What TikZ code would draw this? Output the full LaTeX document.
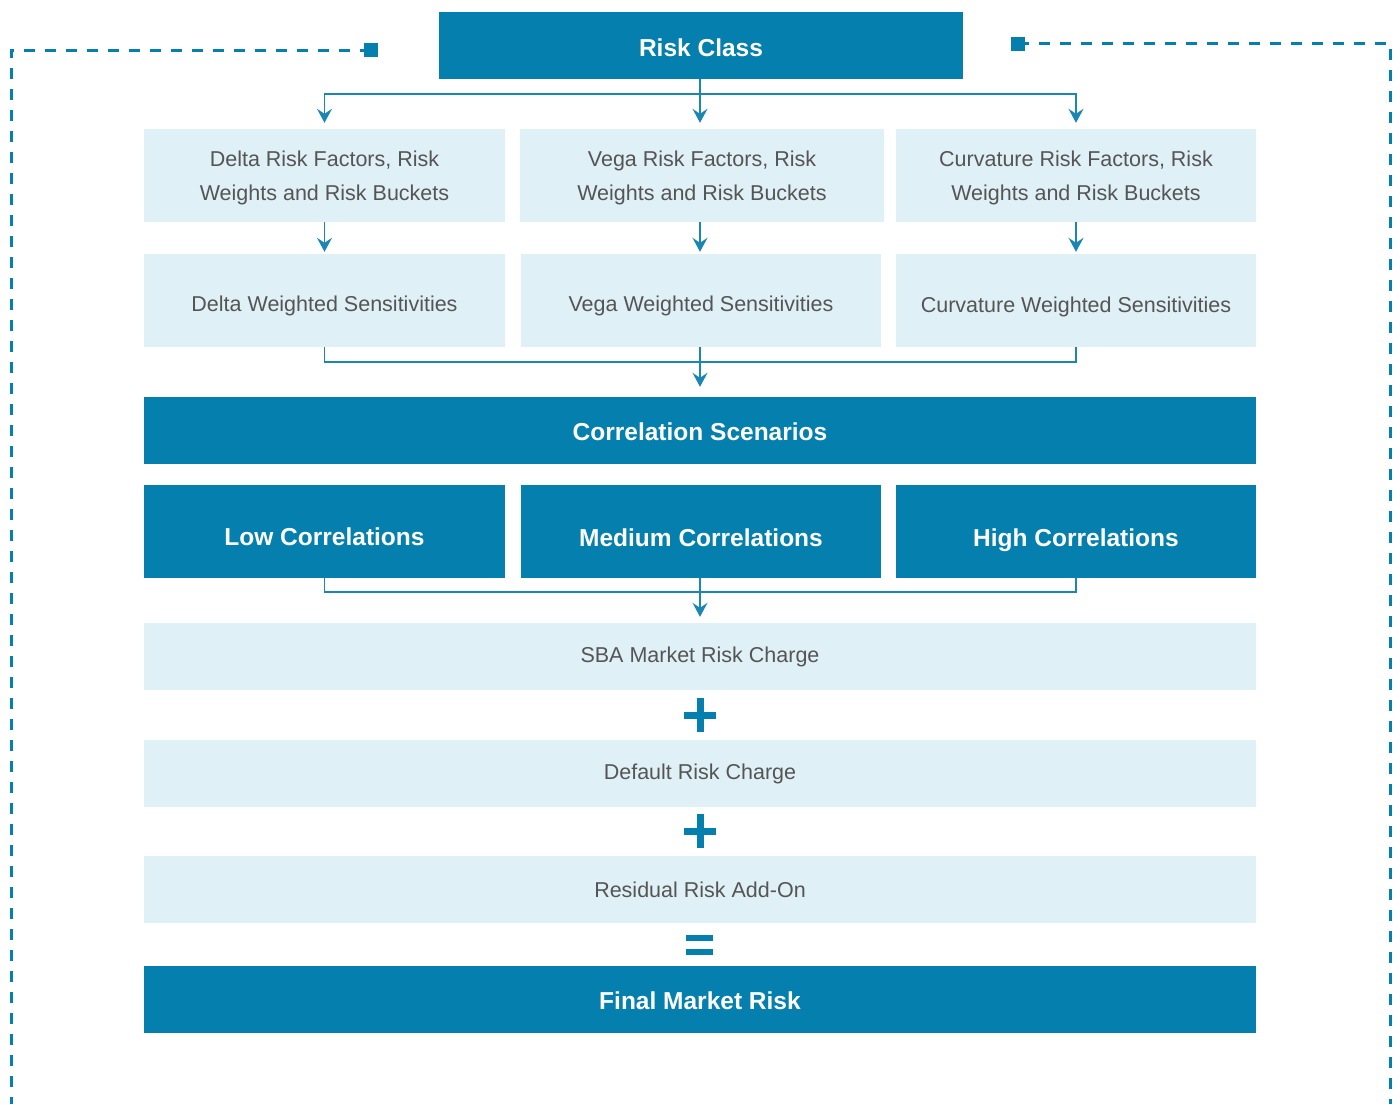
\documentclass[tikz,border=0pt]{standalone}
\usepackage{fontspec}
\setmainfont{Liberation Sans}
\usetikzlibrary{arrows.meta}
\definecolor{dark}{HTML}{0580AE}
\definecolor{light}{HTML}{DFF0F6}
\definecolor{txt}{HTML}{555555}
\definecolor{ln}{HTML}{1A86B3}
\begin{document}
\begin{tikzpicture}[x=1pt,y=-1pt,
  darkbox/.style={fill=dark, text=white, font=\fontsize{24.5}{30}\selectfont\bfseries, inner sep=0pt, text depth=0pt, text height=20pt},
  lightbox/.style={fill=light, text=txt, font=\fontsize{21.5}{34}\selectfont, inner sep=0pt, align=center},
  conn/.style={draw=ln, line width=1.5pt},
  arr/.style={conn, -{Stealth[length=14pt,width=15pt,inset=5pt]}},
  dashln/.style={draw=dark, line width=3pt, dash pattern=on 11pt off 10pt}]
\useasboundingbox (0,0) rectangle (1400,1104);
% dashed frame
\draw[dashln] (371,50) -- (11,50) -- (11,1104);
\fill[dark] (364,43) rectangle (378,57);
\draw[dashln] (1018,43) -- (1390,43) -- (1390,1104);
\fill[dark] (1011,37) rectangle (1025,51);
% nodes
\node[darkbox, text height=21pt, minimum width=524pt, minimum height=67pt] (rc) at (701,45.5) {Risk Class};
\node[lightbox, text height=49pt, text depth=0pt, minimum width=361pt, minimum height=93pt] (d1) at (324.5,175.5) {Delta Risk Factors, Risk\\Weights and Risk Buckets};
\node[lightbox, text height=49pt, text depth=0pt, minimum width=364pt, minimum height=93pt] (v1) at (702,175.5) {Vega Risk Factors, Risk\\Weights and Risk Buckets};
\node[lightbox, text height=49pt, text depth=0pt, minimum width=360pt, minimum height=93pt] (c1) at (1076,175.5) {Curvature Risk Factors, Risk\\Weights and Risk Buckets};
\node[lightbox, text height=21.8pt, text depth=0pt, minimum width=361pt, minimum height=93pt] (d2) at (324.5,300.5) {Delta Weighted Sensitivities};
\node[lightbox, text height=21.8pt, text depth=0pt, minimum width=360pt, minimum height=93pt] (v2) at (701,300.5) {Vega Weighted Sensitivities};
\node[lightbox, text height=23pt, text depth=0pt, minimum width=360pt, minimum height=93pt] (c2) at (1076,300.5) {Curvature Weighted Sensitivities};
\node[darkbox, text height=19.5pt, minimum width=1112pt, minimum height=67pt] (cs) at (700,430.5) {Correlation Scenarios};
\node[darkbox, text height=28pt, minimum width=361pt, minimum height=93pt] (lo) at (324.5,531.5) {Low Correlations};
\node[darkbox, text height=29pt, minimum width=360pt, minimum height=93pt] (me) at (701,531.5) {Medium Correlations};
\node[darkbox, text height=30pt, minimum width=360pt, minimum height=93pt] (hi) at (1076,531.5) {High Correlations};
\node[lightbox, minimum width=1112pt, minimum height=67pt] (sba) at (700,656.5) {SBA Market Risk Charge};
\node[lightbox, minimum width=1112pt, minimum height=67pt] (def) at (700,773.5) {Default Risk Charge};
\node[lightbox, minimum width=1112pt, minimum height=67pt] (res) at (700,889.5) {Residual Risk Add-On};
\node[darkbox, text height=20.5pt, minimum width=1112pt, minimum height=67pt] (fin) at (700,999.5) {Final Market Risk};
% connectors
\coordinate (j1) at (700,94);
\draw[arr, shorten >=6pt] (j1) -| (d1.north);
\draw[arr, shorten >=6pt] (j1) -| (c1.north);
\draw[arr, shorten >=6pt] (rc.south -| j1) -- (j1 |- v1.north);
\draw[arr, shorten >=2pt] (d1.south) -- (d2.north);
\draw[arr, shorten >=2pt] (v1.south -| j1) -- (j1 |- v2.north);
\draw[arr, shorten >=2pt] (c1.south) -- (c2.north);
\coordinate (j2) at (700,362);
\draw[conn] (d2.south) |- (c2.south |- j2) -- (c2.south);
\draw[arr, shorten >=10pt] (v2.south -| j2) -- (j2 |- cs.north);
\coordinate (j3) at (700,592);
\draw[conn] (lo.south) |- (hi.south |- j3) -- (hi.south);
\draw[arr, shorten >=6pt] (me.south -| j3) -- (j3 |- sba.north);
% operators
\fill[dark] (684,711.5) rectangle (716,718.5);
\fill[dark] (696.5,698) rectangle (703.5,732);
\fill[dark] (684,827.5) rectangle (716,834.5);
\fill[dark] (696.5,814) rectangle (703.5,848);
\fill[dark] (686,935) rectangle (713,941);
\fill[dark] (686,948.5) rectangle (713,954.5);
\end{tikzpicture}
\end{document}
